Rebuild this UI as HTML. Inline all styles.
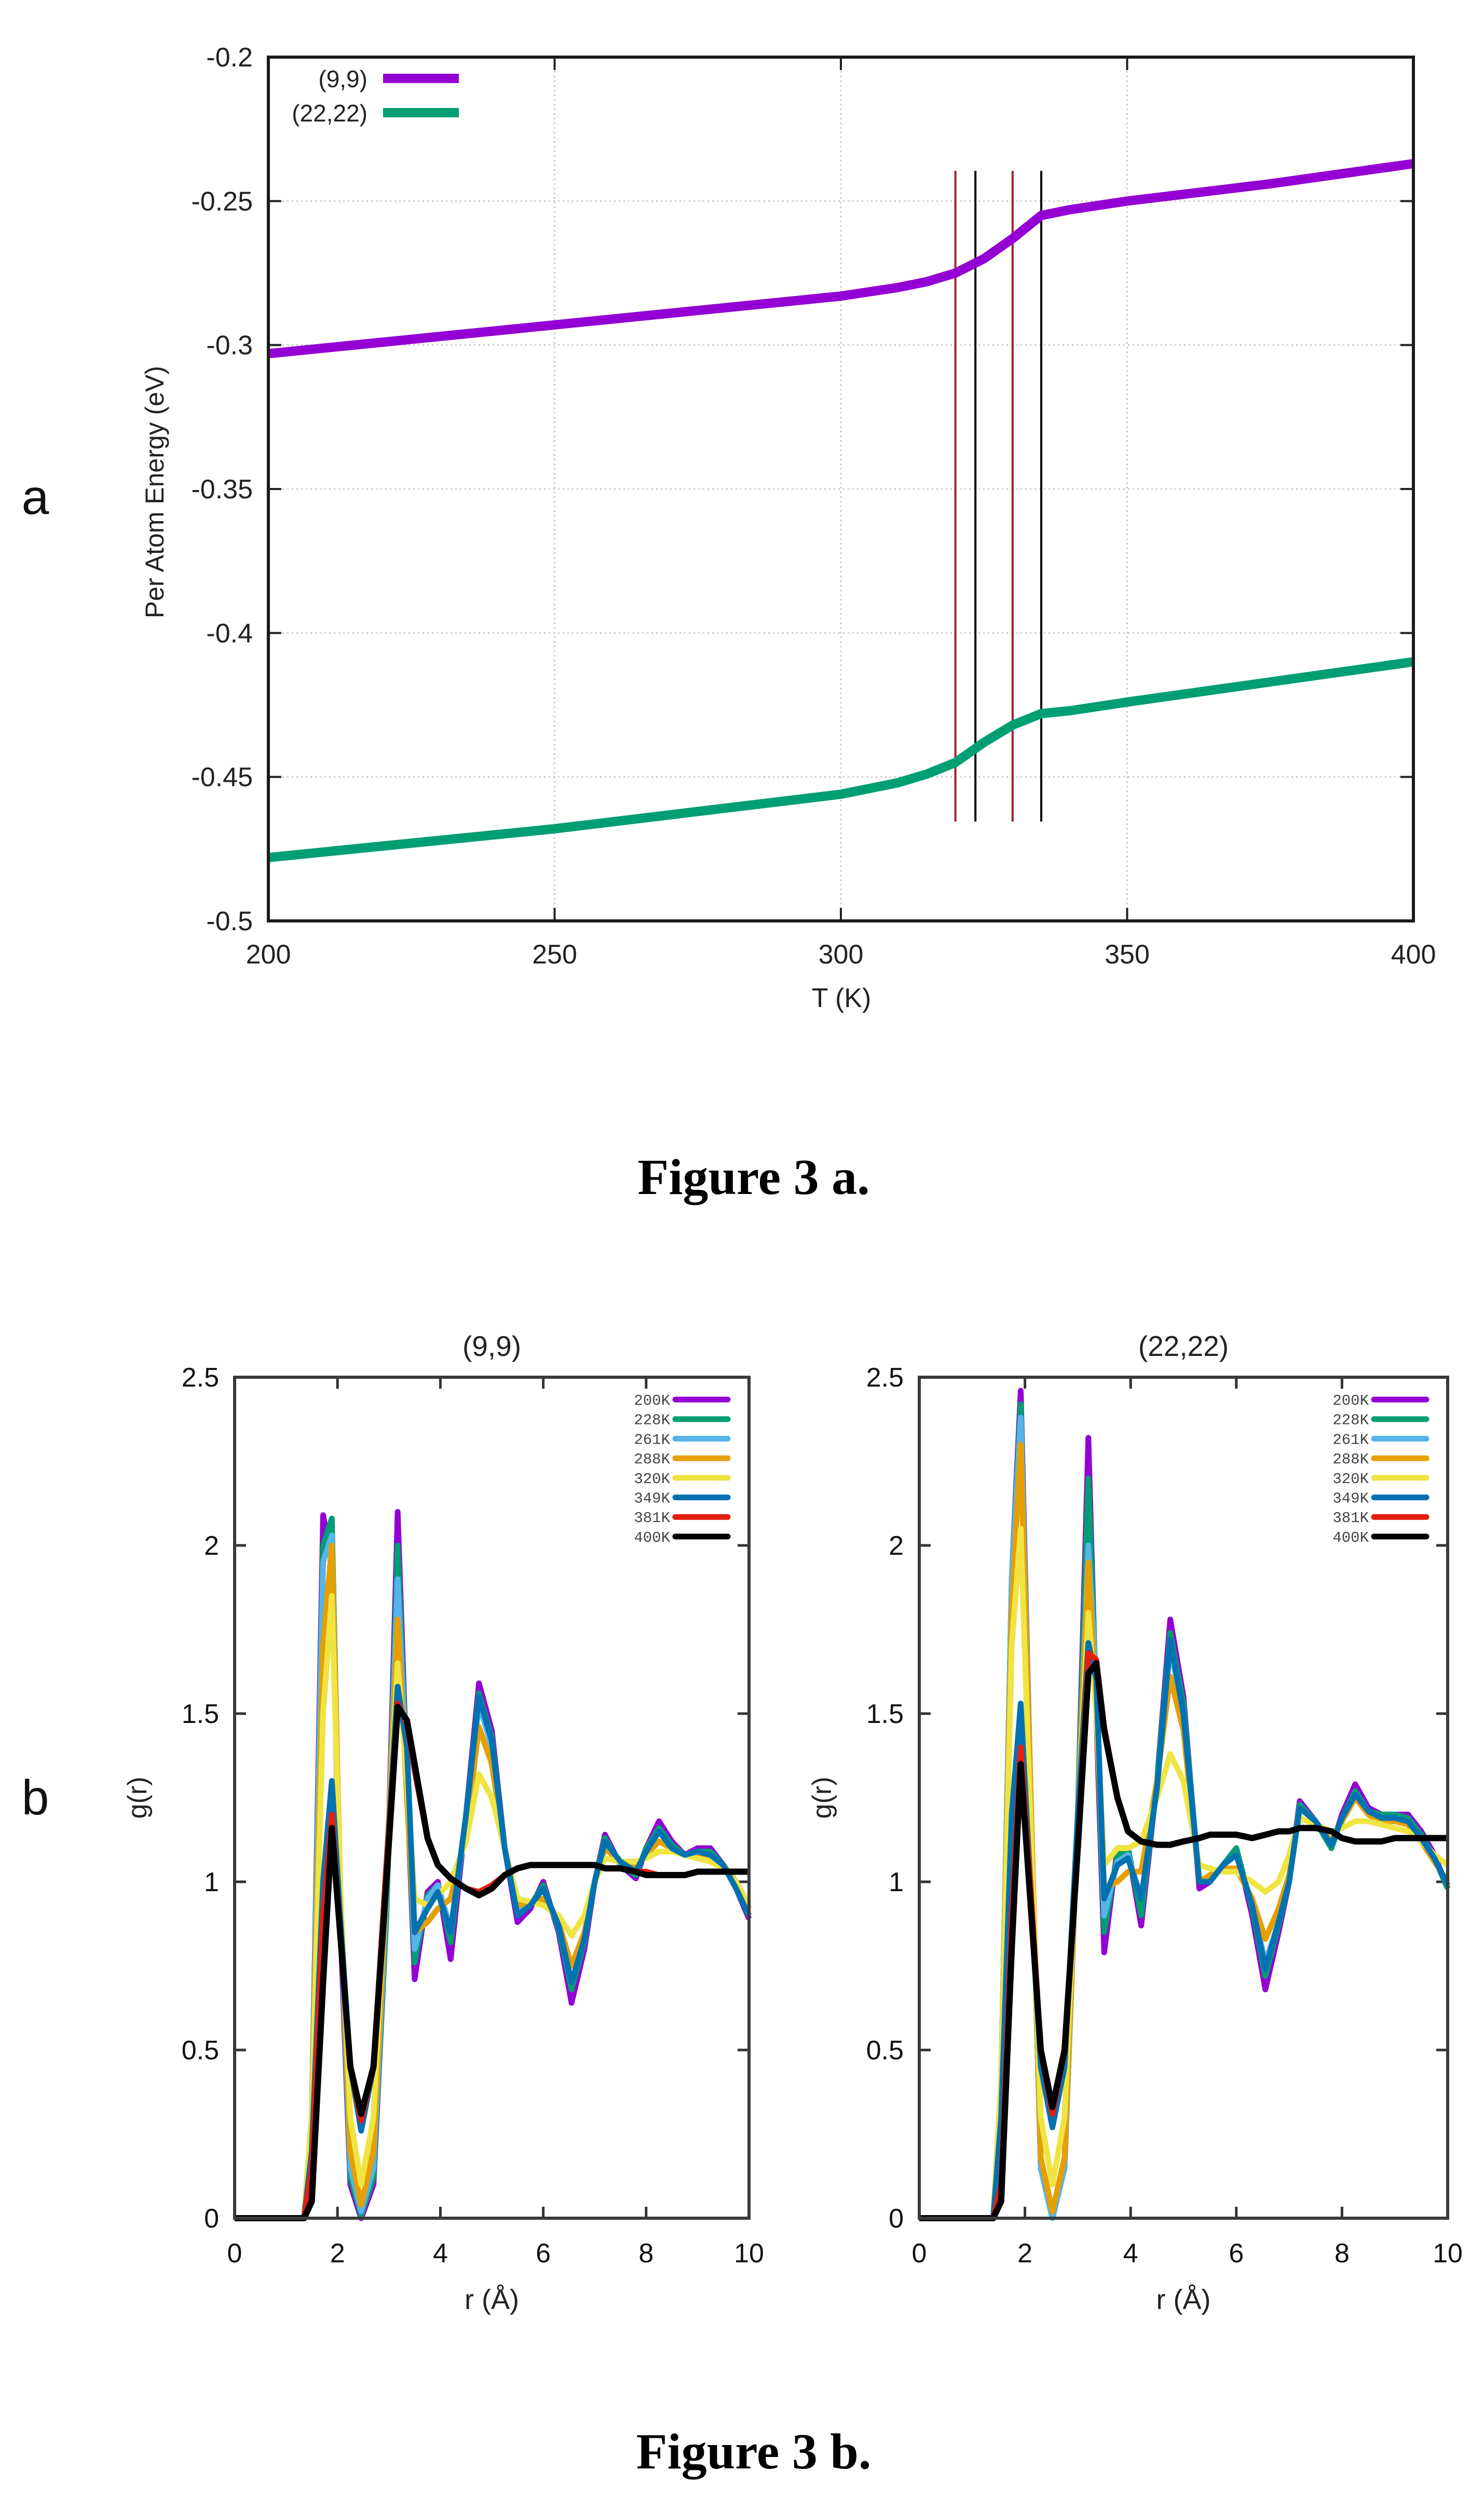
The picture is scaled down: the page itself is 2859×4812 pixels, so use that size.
<!DOCTYPE html>
<html><head><meta charset="utf-8"><style>
html,body{margin:0;padding:0;background:#fff;}
svg{display:block;font-family:"Liberation Sans",sans-serif;}
</style></head><body>
<svg id="fig" width="2859" height="4812" viewBox="0 0 2859 4812" xmlns="http://www.w3.org/2000/svg">
<rect width="2859" height="4812" fill="#fff"/>
<g id="pa"></g>
<g id="pb1"></g>
<g id="pb2"></g>
<text x="68" y="990" font-size="95" fill="#111" text-anchor="middle">a</text>
<text x="68" y="3495" font-size="95" fill="#111" text-anchor="middle">b</text>
<text x="1452" y="2300" font-size="98" font-weight="bold" font-family="Liberation Serif, serif" text-anchor="middle" fill="#000">Figure 3 a.</text>
<text x="1452" y="4755" font-size="98" font-weight="bold" font-family="Liberation Serif, serif" text-anchor="middle" fill="#000">Figure 3 b.</text>
</svg>
<script>
// ---- Figure 3a data ----
const aTemps = [200,250,300,310,315,320,325,330,335,340,350,375,400];
const aE99 = [-0.303,-0.293,-0.283,-0.280,-0.278,-0.275,-0.270,-0.263,-0.255,-0.253,-0.250,-0.244,-0.237];
const aE2222 = [-0.478,-0.468,-0.456,-0.452,-0.449,-0.445,-0.438,-0.432,-0.428,-0.427,-0.424,-0.417,-0.410];
const aXTicks = [200,250,300,350,400];
const aYTicks = [-0.2,-0.25,-0.3,-0.35,-0.4,-0.45,-0.5];
const aVLines = [320,323.5,330,335];
const aVColors = ["#a0202a","#000","#a0202a","#000"];

// ---- Figure 3b data ----
const bTempLabels = ["200K","228K","261K","288K","320K","349K","381K","400K"];
const bColors = ["#9400d3","#009e73","#56b4e9","#e69f00","#f0e442","#0072b2","#e51e10","#000000"];
const bXTicks = [0,2,4,6,8,10];
const bYTicks = [0,0.5,1,1.5,2,2.5];
const rLeft = [0,1.35,1.5,1.72,1.89,2.05,2.25,2.46,2.7,2.95,3.17,3.35,3.5,3.75,3.95,4.2,4.5,4.75,5.0,5.25,5.5,5.75,6.0,6.3,6.55,6.8,7.0,7.2,7.5,7.8,8.0,8.25,8.5,8.75,9.0,9.25,9.5,9.75,10];
const gL200 = [0,0,0.3,2.09,1.95,0.9,0.1,0.0,0.1,0.9,2.1,1.3,0.71,0.97,1.0,0.77,1.2,1.59,1.45,1.1,0.88,0.92,1.0,0.85,0.64,0.8,1.0,1.14,1.05,1.01,1.1,1.18,1.12,1.08,1.1,1.1,1.05,0.98,0.89];
const gL228 = [0,0,0.3,2.0,2.08,0.95,0.12,0.01,0.12,0.9,2.0,1.3,0.76,0.96,0.99,0.82,1.2,1.56,1.43,1.1,0.9,0.93,0.99,0.86,0.68,0.82,1.0,1.13,1.05,1.02,1.1,1.16,1.11,1.08,1.09,1.09,1.05,0.98,0.9];
const gL261 = [0,0,0.3,1.95,2.03,0.95,0.15,0.02,0.15,0.95,1.9,1.3,0.8,0.95,0.99,0.86,1.18,1.53,1.4,1.1,0.91,0.93,0.98,0.87,0.7,0.83,1.0,1.12,1.05,1.03,1.09,1.15,1.1,1.08,1.09,1.08,1.05,0.98,0.9];
const gL288 = [0,0,0.3,1.7,2.0,1.0,0.2,0.04,0.2,1.0,1.78,1.25,0.85,0.88,0.92,0.95,1.15,1.46,1.35,1.1,0.93,0.94,0.95,0.88,0.75,0.85,1.0,1.1,1.06,1.05,1.08,1.12,1.1,1.08,1.08,1.07,1.05,1.0,0.92];
const gL320 = [0,0,0.3,1.5,1.85,1.0,0.3,0.1,0.3,1.05,1.65,1.3,0.95,0.93,0.96,1.0,1.12,1.32,1.25,1.1,0.95,0.94,0.93,0.9,0.84,0.9,1.0,1.07,1.06,1.06,1.07,1.09,1.09,1.08,1.07,1.06,1.04,1.0,0.93];
const gL349 = [0,0,0.2,1.0,1.3,0.9,0.45,0.26,0.45,1.05,1.58,1.4,0.85,0.92,0.97,0.85,1.2,1.55,1.42,1.1,0.9,0.93,0.98,0.87,0.7,0.83,1.0,1.12,1.06,1.03,1.09,1.15,1.1,1.08,1.09,1.08,1.05,0.98,0.9];
const gL381 = [0,0,0.15,0.9,1.2,0.85,0.45,0.29,0.45,1.05,1.53,1.47,1.33,1.13,1.05,1.01,0.98,0.97,0.99,1.02,1.04,1.05,1.05,1.05,1.05,1.05,1.05,1.04,1.04,1.03,1.03,1.02,1.02,1.02,1.03,1.03,1.03,1.03,1.03];
const gL400 = [0,0,0.05,0.7,1.16,0.85,0.45,0.31,0.45,1.0,1.52,1.48,1.35,1.13,1.05,1.01,0.98,0.96,0.98,1.02,1.04,1.05,1.05,1.05,1.05,1.05,1.05,1.04,1.04,1.03,1.02,1.02,1.02,1.02,1.03,1.03,1.03,1.03,1.03];
const rRight = [0,1.4,1.55,1.75,1.92,2.1,2.3,2.52,2.75,3.0,3.2,3.35,3.5,3.75,3.95,4.2,4.5,4.75,5.0,5.3,5.5,5.75,6.0,6.3,6.55,6.8,7.0,7.2,7.5,7.8,8.0,8.25,8.5,8.75,9.0,9.25,9.5,9.75,10];
const gR200 = [0,0,0.4,1.9,2.46,1.3,0.15,0.0,0.15,1.2,2.32,1.5,0.79,1.1,1.1,0.87,1.3,1.78,1.55,0.98,1.0,1.05,1.1,0.9,0.68,0.85,1.0,1.24,1.18,1.1,1.2,1.29,1.22,1.2,1.2,1.2,1.15,1.08,0.98];
const gR228 = [0,0,0.4,1.9,2.42,1.3,0.15,0.0,0.15,1.2,2.2,1.55,0.85,1.08,1.1,0.9,1.3,1.74,1.53,1.0,1.0,1.05,1.1,0.92,0.72,0.87,1.0,1.23,1.18,1.1,1.19,1.27,1.21,1.2,1.2,1.19,1.14,1.07,0.98];
const gR261 = [0,0,0.4,1.9,2.38,1.3,0.15,0.0,0.15,1.2,2.0,1.6,0.9,1.06,1.08,0.95,1.28,1.7,1.5,1.0,1.0,1.05,1.08,0.93,0.76,0.88,1.0,1.22,1.18,1.11,1.19,1.26,1.21,1.19,1.19,1.18,1.13,1.07,0.99];
const gR288 = [0,0,0.4,1.8,2.3,1.3,0.18,0.02,0.18,1.2,1.95,1.5,0.98,1.0,1.03,1.03,1.3,1.61,1.45,1.0,1.02,1.04,1.04,0.95,0.83,0.92,1.02,1.22,1.18,1.12,1.18,1.25,1.2,1.18,1.18,1.17,1.12,1.06,1.0];
const gR320 = [0,0,0.4,1.7,2.05,1.2,0.3,0.1,0.3,1.2,1.8,1.5,1.05,1.1,1.1,1.12,1.25,1.38,1.3,1.05,1.04,1.03,1.03,1.0,0.97,1.0,1.08,1.19,1.17,1.15,1.16,1.18,1.18,1.17,1.16,1.15,1.12,1.08,1.05];
const gR349 = [0,0,0.3,1.2,1.53,1.0,0.45,0.27,0.45,1.2,1.71,1.6,0.95,1.05,1.07,0.95,1.28,1.72,1.5,1.0,1.0,1.05,1.08,0.93,0.74,0.88,1.0,1.22,1.18,1.11,1.19,1.26,1.21,1.19,1.19,1.18,1.13,1.07,0.99];
const gR381 = [0,0,0.1,0.9,1.4,1.0,0.5,0.31,0.5,1.1,1.68,1.66,1.46,1.25,1.15,1.12,1.11,1.11,1.12,1.13,1.14,1.14,1.14,1.13,1.14,1.15,1.15,1.16,1.16,1.15,1.13,1.12,1.12,1.12,1.13,1.13,1.13,1.13,1.13];
const gR400 = [0,0,0.05,0.8,1.35,0.95,0.5,0.33,0.5,1.1,1.62,1.65,1.45,1.25,1.15,1.12,1.11,1.11,1.12,1.13,1.14,1.14,1.14,1.13,1.14,1.15,1.15,1.16,1.16,1.15,1.13,1.12,1.12,1.12,1.13,1.13,1.13,1.13,1.13];

const NS = "http://www.w3.org/2000/svg";
function mk(parent, tag, attrs, text){
  const e = document.createElementNS(NS, tag);
  for (const k in attrs) e.setAttribute(k, attrs[k]);
  if (text !== undefined) e.textContent = text;
  parent.appendChild(e);
  return e;
}

// ===== Figure 3a =====
(function(){
  const g = document.getElementById('pa');
  const L=517, R=2723, T=110, B=1774;
  const xs = v => L + (v-200)/(400-200)*(R-L);
  const ys = v => T + (-0.2 - v)/0.3*(B-T);
  aXTicks.forEach(v=>{
    if (v>200 && v<400){
      const gl = mk(g,'line',{x1:xs(v),x2:xs(v),y1:T,y2:B,stroke:'#c8c8c8','stroke-width':3,'stroke-dasharray':'3 6'});
      
      
    }
    mk(g,'line',{x1:xs(v),x2:xs(v),y1:B,y2:B-25,stroke:'#222','stroke-width':4});
    mk(g,'line',{x1:xs(v),x2:xs(v),y1:T,y2:T+25,stroke:'#222','stroke-width':4});
    const t = mk(g,'text',{x:xs(v),y:B+82,'font-size':52,'text-anchor':'middle',fill:'#222'}, String(v));
    
    
  });
  aYTicks.forEach(v=>{
    if (v<-0.2 && v>-0.5){
      const gl = mk(g,'line',{x1:L,x2:R,y1:ys(v),y2:ys(v),stroke:'#c8c8c8','stroke-width':3,'stroke-dasharray':'3 6'});
      
      
    }
    mk(g,'line',{x1:L,x2:L+25,y1:ys(v),y2:ys(v),stroke:'#222','stroke-width':4});
    mk(g,'line',{x1:R,x2:R-25,y1:ys(v),y2:ys(v),stroke:'#222','stroke-width':4});
    const t = mk(g,'text',{x:L-30,y:ys(v)+18,'font-size':52,'text-anchor':'end',fill:'#222'}, String(v));
    
    
  });
  aVLines.forEach((v,i)=>{
    const l = mk(g,'line',{x1:xs(v),x2:xs(v),y1:ys(-0.2395),y2:ys(-0.4655),stroke:aVColors[i],'stroke-width':4});
    
    
  });
  const series = [[aE99,'#9400d3','series-9-9'],[aE2222,'#009e73','series-22-22']];
  series.forEach(([vals,col,nm])=>{
    const p = mk(g,'polyline',{points:aTemps.map((t,i)=>xs(t)+','+ys(vals[i])).join(' '),fill:'none',stroke:col,'stroke-width':18,'stroke-linejoin':'round'});
    
    
  });
  const fr = mk(g,'rect',{x:L,y:T,width:R-L,height:B-T,fill:'none',stroke:'#1a1a1a','stroke-width':6});
  
  
  const leg = [["(9,9)",'#9400d3',151],["(22,22)",'#009e73',217]];
  leg.forEach(([lab,col,y])=>{
    const t = mk(g,'text',{x:708,y:y+17,'font-size':46,'text-anchor':'end',fill:'#222'},lab);
    
    
    const l = mk(g,'line',{x1:738,x2:884,y1:y,y2:y,stroke:col,'stroke-width':18});
    
    
  });
  const xt = mk(g,'text',{x:1621,y:1940,'font-size':52,'text-anchor':'middle',fill:'#222'},'T (K)');
  
  
  const yt = mk(g,'text',{x:0,y:0,'font-size':50,'text-anchor':'middle',fill:'#222',transform:'translate(315,948) rotate(-90)'},'Per Atom Energy (eV)');
  
  
})();

// ===== Figure 3b panels =====
function grPanel(id, L, R, title, rs, seriesList){
  const g = document.getElementById(id);
  const T=2653, B=4273;
  const xs = v => L + v/10*(R-L);
  const ys = v => B - v/2.5*(B-T);
  bXTicks.forEach(v=>{
    mk(g,'line',{x1:xs(v),x2:xs(v),y1:B,y2:B-22,stroke:'#333','stroke-width':5});
    mk(g,'line',{x1:xs(v),x2:xs(v),y1:T,y2:T+22,stroke:'#333','stroke-width':5});
    const t = mk(g,'text',{x:xs(v),y:B+85,'font-size':52,'text-anchor':'middle',fill:'#111'},String(v));
    
    
  });
  bYTicks.forEach(v=>{
    mk(g,'line',{x1:L,x2:L+22,y1:ys(v),y2:ys(v),stroke:'#333','stroke-width':5});
    mk(g,'line',{x1:R,x2:R-22,y1:ys(v),y2:ys(v),stroke:'#333','stroke-width':5});
    const t = mk(g,'text',{x:L-30,y:ys(v)+18,'font-size':52,'text-anchor':'end',fill:'#111'},String(v));
    
    
  });
  seriesList.forEach((vals,i)=>{
    const p = mk(g,'polyline',{points:rs.map((r,j)=>xs(r)+','+ys(vals[j])).join(' '),fill:'none',stroke:bColors[i],'stroke-width':i===7?12:11,'stroke-linejoin':'round'});
    
    
  });
  const fr = mk(g,'rect',{x:L,y:T,width:R-L,height:B-T,fill:'none',stroke:'#3a3a3a','stroke-width':6});
  
  
  bTempLabels.forEach((lab,i)=>{
    const y = 2696 + i*37.7;
    const t = mk(g,'text',{x:R-152,y:y+10,'font-size':29,'text-anchor':'end',fill:'#444','font-family':'Liberation Mono, monospace'},lab);
    
    
    const l = mk(g,'line',{x1:R-142,x2:R-41,y1:y,y2:y,stroke:bColors[i],'stroke-width':11,'stroke-linecap':'round'});
    
    
  });
  const tt = mk(g,'text',{x:(L+R)/2,y:2612,'font-size':55,'text-anchor':'middle',fill:'#222'},title);
  
  
  const xt = mk(g,'text',{x:(L+R)/2,y:4448,'font-size':54,'text-anchor':'middle',fill:'#222'},'r (Å)');
  
  
  const yt = mk(g,'text',{x:0,y:0,'font-size':52,'text-anchor':'middle',fill:'#222',transform:'translate('+(L-170)+',3463) rotate(-90)'},'g(r)');
  
  
}
grPanel('pb1', 452, 1443, '(9,9)', rLeft, [gL200,gL228,gL261,gL288,gL320,gL349,gL381,gL400]);
grPanel('pb2', 1771, 2789, '(22,22)', rRight, [gR200,gR228,gR261,gR288,gR320,gR349,gR381,gR400]);
</script>
</body></html>
